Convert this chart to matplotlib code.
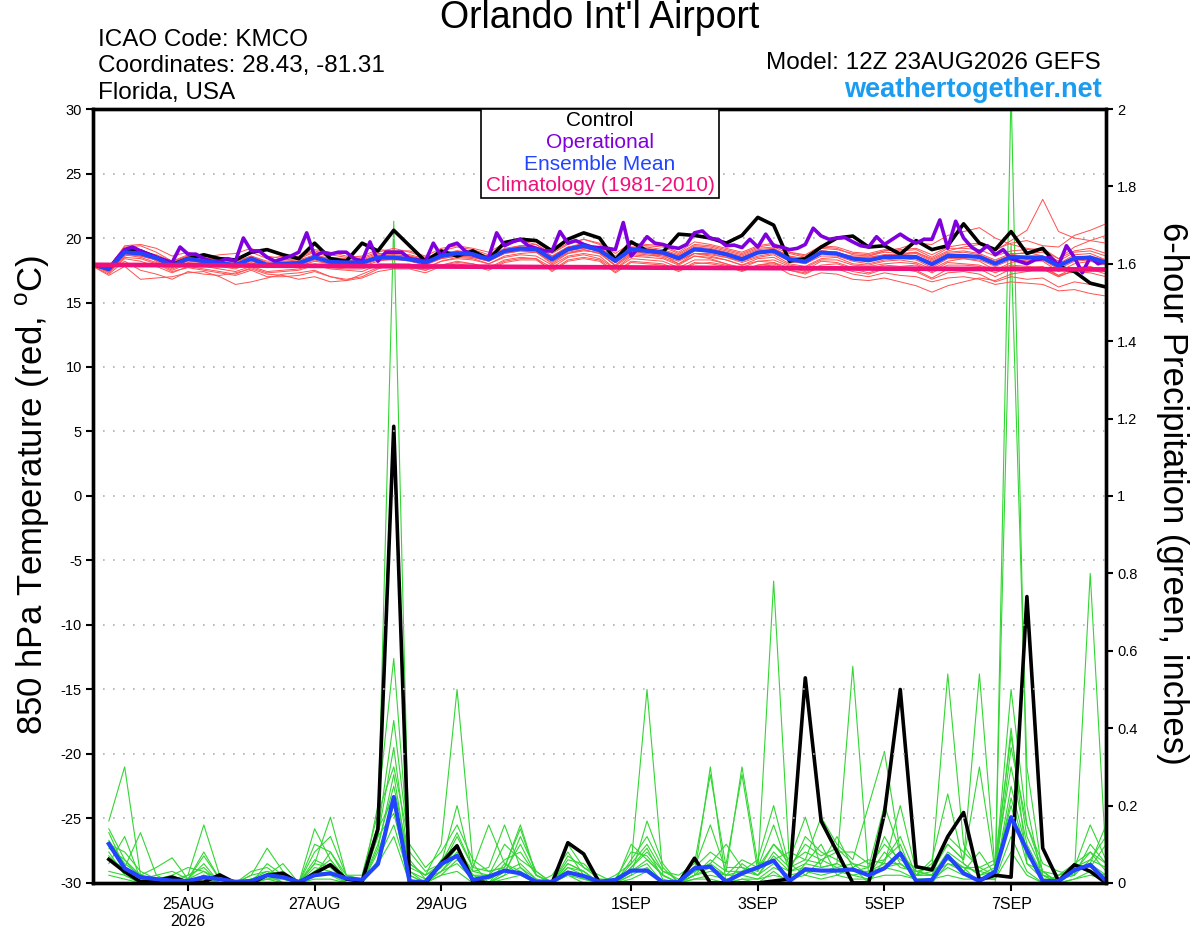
import numpy as np
import matplotlib
matplotlib.use("Agg")
import matplotlib.pyplot as plt
from matplotlib.patches import Rectangle

plt.rcParams['font.family'] = ['Liberation Sans', 'DejaVu Sans']
plt.rcParams['mathtext.fontset'] = 'custom'
plt.rcParams['mathtext.rm'] = 'Liberation Sans'

# forecast hours from 12Z 23AUG2026, every 6 h (temperature) / 3 h (operational)
tick_hours = [36, 84, 132, 204, 252, 300, 348]
tick_labels = ["25AUG\n2026", "27AUG", "29AUG", "1SEP", "3SEP", "5SEP", "7SEP"]

# 850 hPa temperature, ensemble members (C)
temp_members = [
    [18.0, 17.8, 19.3, 19.4, 18.9, 18.2, 18.7, 18.6, 18.5, 18.3, 18.9, 18.4, 18.6,
     18.5, 19.0, 18.7, 18.5, 18.6, 19.1, 19.0, 19.0, 18.6, 19.2, 19.4, 19.2, 18.9,
     19.6, 19.8, 19.7, 18.9, 19.6, 19.9, 19.6, 18.8, 19.6, 19.5, 19.4, 18.9, 19.7,
     19.5, 19.2, 18.9, 19.4, 19.6, 18.9, 18.7, 19.4, 19.3, 18.9, 18.8, 19.1, 19.0,
     19.1, 18.5, 19.2, 19.2, 19.1, 18.6, 19.0, 19.1, 19.2, 18.4, 19.0, 19.2, 18.8],
    [17.9, 17.3, 18.4, 18.2, 17.8, 17.3, 17.8, 17.6, 17.4, 17.2, 17.7, 17.3, 17.4,
     17.5, 17.9, 17.6, 17.5, 17.4, 17.9, 17.8, 17.7, 17.5, 17.9, 18.1, 18.0, 17.7,
     18.3, 18.5, 18.4, 17.7, 18.5, 18.7, 18.4, 17.6, 18.4, 18.3, 18.2, 17.7, 18.3,
     18.3, 18.0, 17.7, 18.2, 18.3, 17.8, 17.5, 18.2, 18.1, 17.7, 17.6, 17.9, 17.8,
     17.9, 17.3, 17.9, 17.9, 17.8, 17.3, 17.8, 17.7, 17.8, 17.1, 17.7, 17.8, 17.4],
    [17.8, 17.1, 17.8, 16.8, 16.9, 17.0, 17.3, 17.4, 17.0, 16.4, 16.6, 16.9, 17.2,
     17.3, 17.5, 17.0, 16.8, 17.0, 17.6, 18.0, 17.9, 17.6, 18.2, 18.5, 18.4, 18.0,
     18.6, 18.8, 18.9, 18.0, 18.8, 19.0, 18.9, 17.8, 18.7, 18.6, 18.7, 18.0, 18.8,
     18.7, 18.5, 18.1, 18.5, 18.7, 18.0, 17.8, 18.4, 18.5, 18.0, 17.9, 18.2, 18.3,
     18.1, 17.6, 18.2, 18.4, 18.2, 17.5, 18.1, 18.3, 18.2, 17.4, 18.0, 18.2, 17.9],
    [18.0, 17.7, 19.4, 19.5, 19.2, 18.6, 18.9, 18.5, 18.7, 18.8, 19.2, 18.6, 18.4,
     18.6, 19.1, 18.9, 18.6, 18.5, 18.9, 19.2, 18.9, 18.5, 18.8, 19.0, 18.8, 18.5,
     19.1, 19.4, 19.5, 18.6, 19.3, 19.6, 19.2, 18.3, 19.3, 19.2, 19.0, 18.6, 19.3,
     19.2, 18.9, 18.6, 19.1, 19.2, 18.6, 18.3, 19.0, 18.9, 18.5, 18.5, 18.7, 18.7,
     18.8, 18.2, 18.8, 18.9, 18.7, 18.2, 18.7, 18.9, 18.6, 18.0, 18.7, 18.8, 18.3],
    [17.9, 17.4, 18.6, 18.9, 18.2, 17.6, 18.1, 18.0, 17.8, 17.6, 18.1, 17.7, 17.8,
     17.8, 18.2, 18.0, 17.8, 17.8, 18.2, 18.4, 18.2, 17.9, 18.4, 18.6, 18.5, 18.2,
     18.8, 19.0, 18.9, 18.1, 18.9, 19.1, 18.8, 17.9, 18.9, 18.8, 18.6, 18.2, 18.8,
     18.8, 18.5, 18.2, 18.6, 18.8, 18.2, 18.0, 18.6, 18.6, 18.2, 18.0, 18.3, 18.4,
     18.3, 17.7, 18.4, 18.4, 18.3, 17.8, 18.3, 18.2, 18.3, 17.6, 18.2, 18.3, 17.9],
    [18.0, 17.5, 18.8, 18.6, 18.3, 17.8, 18.2, 18.1, 18.0, 17.8, 18.3, 17.8, 17.9,
     18.0, 18.4, 18.1, 18.0, 18.0, 18.4, 18.4, 18.3, 18.0, 18.5, 18.7, 18.6, 18.3,
     18.9, 19.1, 19.0, 18.3, 19.0, 19.2, 19.0, 18.1, 19.0, 18.8, 18.7, 18.3, 18.8,
     18.6, 18.3, 17.9, 18.2, 18.1, 17.5, 17.3, 17.8, 17.6, 17.2, 17.0, 17.3, 17.1,
     17.0, 16.6, 16.9, 17.0, 16.8, 16.4, 16.6, 16.5, 16.4, 15.9, 16.0, 15.7, 15.5],
    [17.9, 17.6, 18.9, 18.7, 18.5, 18.0, 18.5, 18.3, 18.2, 18.0, 18.5, 18.0, 18.1,
     18.2, 18.6, 18.3, 18.2, 18.2, 18.6, 18.6, 18.5, 18.2, 18.7, 18.9, 18.8, 18.5,
     19.1, 19.3, 19.2, 18.5, 19.2, 19.5, 19.2, 18.3, 19.2, 19.1, 19.0, 18.5, 19.2,
     19.1, 18.8, 18.5, 19.0, 19.1, 18.5, 18.3, 19.0, 18.9, 18.5, 18.5, 18.7, 18.7,
     18.9, 18.4, 19.0, 19.3, 19.5, 19.0, 19.8, 20.6, 23.0, 20.5, 20.0, 19.8, 19.6],
    [18.0, 17.7, 19.0, 18.9, 18.6, 18.1, 18.6, 18.4, 18.3, 18.1, 18.6, 18.1, 18.2,
     18.3, 18.7, 18.4, 18.3, 18.3, 18.7, 18.7, 18.6, 18.3, 18.8, 19.0, 18.9, 18.6,
     19.2, 19.4, 19.3, 18.6, 19.3, 19.5, 19.3, 18.5, 19.3, 19.3, 19.1, 18.7, 19.4,
     19.3, 19.0, 18.7, 19.2, 19.3, 18.8, 18.5, 19.2, 19.1, 18.8, 18.7, 19.0, 19.1,
     19.2, 18.7, 19.3, 19.5, 19.6, 19.1, 19.6, 19.8, 19.4, 19.3, 20.2, 20.6, 21.1],
    [17.9, 17.5, 18.7, 18.5, 18.1, 17.5, 18.0, 17.8, 17.6, 17.4, 17.8, 17.4, 17.5,
     17.6, 18.0, 17.7, 17.6, 17.6, 18.0, 18.0, 18.0, 17.7, 18.2, 18.4, 18.3, 18.0,
     18.5, 18.7, 18.6, 17.9, 18.6, 18.8, 18.6, 17.6, 18.6, 18.5, 18.4, 17.9, 18.6,
     18.5, 18.3, 17.9, 18.4, 18.5, 17.9, 17.7, 18.3, 18.3, 17.9, 17.8, 18.0, 18.1,
     18.0, 17.4, 18.1, 18.0, 17.9, 17.5, 17.9, 17.8, 17.7, 17.1, 17.4, 17.3, 17.0],
    [17.8, 17.4, 18.5, 18.4, 18.0, 17.4, 17.7, 17.5, 17.3, 17.1, 17.5, 17.0, 17.0,
     17.1, 17.4, 17.0, 16.7, 16.9, 17.4, 17.6, 17.6, 17.3, 17.8, 18.0, 17.8, 17.5,
     18.1, 18.3, 18.3, 17.5, 18.3, 18.5, 18.3, 17.4, 18.2, 18.1, 18.0, 17.5, 18.1,
     18.0, 17.8, 17.4, 17.9, 18.0, 17.5, 17.2, 17.8, 17.8, 17.4, 17.2, 17.6, 17.6,
     17.5, 16.9, 17.6, 17.7, 17.6, 17.0, 17.6, 17.5, 17.6, 17.0, 17.5, 17.6, 17.2],
    [18.0, 17.8, 19.1, 19.0, 18.7, 18.2, 18.6, 18.4, 18.4, 18.2, 18.6, 18.2, 18.3,
     18.4, 18.9, 18.5, 18.4, 18.4, 18.8, 18.8, 18.7, 18.4, 19.0, 19.3, 19.1, 18.7,
     19.4, 19.8, 19.5, 18.8, 19.5, 19.9, 19.5, 18.6, 19.5, 19.4, 19.3, 18.8, 19.5,
     19.4, 19.1, 18.8, 19.3, 19.5, 18.9, 18.6, 19.3, 19.2, 18.7, 18.6, 18.9, 18.8,
     18.9, 18.3, 18.9, 19.0, 18.8, 18.3, 18.8, 18.8, 18.9, 18.2, 18.9, 19.0, 18.6],
    [18.0, 17.6, 18.8, 18.7, 18.4, 17.9, 18.3, 18.1, 18.0, 17.8, 18.3, 17.8, 17.9,
     18.0, 18.4, 18.1, 18.0, 18.0, 18.4, 18.4, 18.3, 18.0, 18.5, 18.7, 18.6, 18.3,
     18.9, 19.1, 19.0, 18.3, 19.0, 19.3, 19.0, 18.1, 19.0, 18.9, 18.8, 18.3, 19.0,
     18.9, 18.6, 18.3, 18.8, 18.9, 18.4, 18.2, 18.8, 18.8, 18.6, 18.6, 19.0, 19.2,
     19.6, 19.5, 20.2, 20.5, 20.8, 20.0, 19.5, 19.2, 19.0, 18.4, 19.3, 19.8, 20.2],
    [17.8, 17.2, 18.2, 17.5, 17.2, 16.8, 17.4, 17.2, 17.1, 17.3, 17.6, 17.2, 17.1,
     16.8, 17.0, 16.6, 16.7, 17.2, 17.7, 17.9, 17.8, 17.5, 17.9, 18.2, 18.0, 17.6,
     18.2, 18.4, 18.4, 17.4, 18.2, 18.4, 18.2, 17.3, 18.1, 18.0, 17.9, 17.4, 18.0,
     18.1, 17.9, 17.5, 17.9, 18.1, 17.7, 17.4, 17.9, 18.0, 17.6, 17.3, 17.7, 17.6,
     17.4, 16.8, 17.3, 17.4, 17.2, 16.6, 17.0, 16.8, 16.9, 16.2, 16.6, 16.4, 16.2],
    [18.0, 17.7, 19.2, 19.1, 18.5, 17.8, 18.4, 18.3, 18.2, 18.0, 18.4, 18.0, 18.1,
     18.2, 18.6, 18.4, 18.3, 18.2, 18.6, 18.7, 18.6, 18.3, 18.7, 18.9, 18.8, 18.5,
     19.0, 19.2, 19.2, 18.5, 19.1, 19.4, 19.2, 18.4, 19.2, 19.1, 19.0, 18.6, 19.1,
     19.0, 18.8, 18.5, 18.9, 19.1, 18.6, 18.4, 19.0, 18.9, 18.5, 18.4, 18.6, 18.6,
     18.6, 18.1, 18.7, 18.7, 18.6, 18.1, 18.6, 18.6, 18.6, 17.9, 18.5, 18.6, 18.3],
    [17.9, 17.5, 18.7, 18.6, 18.3, 17.8, 18.3, 18.1, 17.9, 17.7, 18.2, 17.8, 17.9,
     17.9, 18.3, 18.0, 17.9, 17.9, 18.3, 18.3, 18.3, 18.0, 18.4, 18.6, 18.5, 18.2,
     18.8, 19.0, 18.9, 18.2, 18.8, 19.1, 18.8, 17.9, 18.8, 18.7, 18.5, 18.0, 18.6,
     18.4, 18.0, 17.5, 17.8, 17.9, 17.2, 16.9, 17.3, 17.2, 16.8, 16.7, 16.9, 16.6,
     16.3, 15.8, 16.3, 16.6, 16.9, 16.7, 17.2, 17.4, 17.6, 17.0, 17.5, 17.7, 17.4],
    [18.0, 17.4, 18.8, 18.8, 18.4, 17.9, 18.5, 18.3, 18.1, 17.9, 18.5, 18.0, 18.1,
     18.1, 18.5, 18.2, 18.1, 18.1, 18.6, 18.5, 18.4, 18.1, 18.6, 18.8, 18.7, 18.4,
     19.0, 19.2, 19.1, 18.4, 19.1, 19.4, 19.1, 18.2, 19.1, 19.0, 18.9, 18.4, 19.1,
     19.0, 18.7, 18.4, 18.9, 19.0, 18.4, 18.2, 18.9, 18.8, 18.4, 18.3, 18.6, 18.6,
     18.6, 18.1, 18.7, 18.7, 18.5, 18.0, 18.5, 18.5, 18.6, 17.8, 18.4, 18.5, 18.1],
]

control_temp = [
    17.97, 17.6, 19.0, 19.0, 18.5, 17.95, 18.4, 18.7, 18.4, 18.3, 18.9, 19.1, 18.7,
    18.4, 19.6, 18.4, 18.2, 19.6, 19.0, 20.6, 19.4, 18.2, 19.0, 18.6, 19.0, 18.35,
    19.65, 19.9, 19.8, 19.0, 19.9, 20.4, 20.0, 18.3, 19.7, 19.0, 18.9, 20.3, 20.2,
    20.0, 19.6, 20.2, 21.6, 21.0, 18.2, 18.4, 19.3, 20.0, 20.15, 19.3, 19.4, 18.75,
    19.8, 19.1, 19.4, 21.1, 19.6, 19.1, 20.5, 18.8, 19.2, 17.8, 17.4, 16.5, 16.2]

mean_temp = [
    17.96, 17.6, 18.9, 18.8, 18.45, 17.85, 18.4, 18.2, 18.05, 17.9, 18.4, 17.9, 18.0,
    18.05, 18.5, 18.15, 18.1, 18.1, 18.48, 18.48, 18.35, 18.09, 18.61, 18.82, 18.74, 18.35,
    18.99, 19.18, 19.13, 18.35, 19.13, 19.39, 19.05, 18.22, 19.13, 19.0, 18.87, 18.43, 19.13,
    19.0, 18.74, 18.35, 18.87, 19.0, 18.35, 18.17, 18.87, 18.79, 18.4, 18.27, 18.53, 18.53,
    18.53, 17.96, 18.61, 18.61, 18.53, 18.01, 18.53, 18.48, 18.48, 17.83, 18.43, 18.48, 18.09]

# operational run, 3-hourly
oper_temp = [
    17.96, 17.8, 17.57, 18.4, 19.1, 19.3, 19.0, 18.75, 18.5, 18.3, 18.1, 19.3, 18.75,
    18.75, 18.4, 18.2, 18.2, 18.4, 18.2, 20.0, 19.0, 19.0, 18.5, 18.2, 18.4, 18.6,
    18.9, 20.4, 18.6, 18.9, 18.75, 18.9, 18.9,
    18.4, 18.2, 19.7, 18.2, 18.9, 18.9, 18.9, 18.4, 18.3, 18.2, 19.6, 18.6, 19.4,
    19.6, 19.0, 18.7, 18.5, 18.5, 20.4, 19.4, 19.7, 19.9, 19.4, 19.2, 19.0, 19.0,
    20.5, 19.6, 19.8, 19.5, 19.3,
    19.25, 19.2, 19.1, 21.2, 18.6, 19.3, 20.1, 19.6, 19.5, 19.3, 19.2, 19.5, 20.4,
    20.55, 19.96, 19.9, 19.4, 19.45, 19.26, 19.9, 19.3, 20.3, 19.4, 19.3, 19.1, 19.2,
    19.5, 20.76, 20.16, 19.9, 20.0, 20.03,
    19.7, 19.4, 19.3, 20.1, 19.5, 19.9, 20.3, 19.9, 19.6, 19.9, 19.9, 21.4, 19.2,
    21.3, 20.0, 19.3, 18.9, 19.4, 18.7, 19.1, 18.4, 18.2, 18.0, 18.3, 18.4, 18.5,
    17.9, 19.4, 18.5, 17.3, 18.5, 18.0, 18.2]

# 1981-2010 climatology, daily
clim_temp = [17.92, 17.9, 17.88, 17.85, 17.83, 17.8, 17.78, 17.75, 17.73,
             17.7, 17.68, 17.66, 17.64, 17.62, 17.6, 17.58, 17.56]

# 6-hour precipitation (inches), valid 6 h .. 384 h
precip_members = [
    [0.16, 0.30, 0.02, 0, 0, 0.01, 0.05, 0, 0, 0, 0.02, 0, 0, 0.03, 0.05, 0,
     0, 0.15, 1.71, 0.02, 0, 0.03, 0.08, 0, 0, 0.05, 0.02, 0, 0, 0.02, 0, 0,
     0, 0.03, 0.05, 0, 0, 0.02, 0.30, 0, 0.01, 0, 0.03, 0, 0.05, 0.10, 0.02, 0.04,
     0, 0.06, 0.10, 0, 0, 0.05, 0.04, 0, 0, 2.05, 0.20, 0, 0.02, 0.05, 0.08, 0.03],
    [0.13, 0.04, 0.13, 0.02, 0, 0.02, 0.15, 0.02, 0, 0, 0.01, 0.02, 0, 0.14, 0.06, 0.01,
     0, 0.20, 0.58, 0.05, 0.02, 0.10, 0.50, 0.05, 0, 0.02, 0.12, 0.03, 0, 0.05, 0.03, 0,
     0, 0.02, 0.16, 0.05, 0, 0.04, 0.08, 0.05, 0.28, 0.03, 0.78, 0.05, 0.02, 0.06, 0.04, 0.02,
     0.03, 0.04, 0.05, 0.02, 0.06, 0.23, 0.05, 0.02, 0.03, 1.65, 0.30, 0.02, 0, 0.03, 0.05, 0.02],
    [0.11, 0.05, 0.02, 0.04, 0.065, 0.01, 0.07, 0.01, 0, 0.02, 0.09, 0.03, 0, 0.05, 0.17, 0.02,
     0, 0.13, 0.42, 0.08, 0.03, 0.05, 0.20, 0.03, 0.04, 0.15, 0.04, 0, 0.02, 0.08, 0.02, 0,
     0.02, 0.05, 0.50, 0.02, 0, 0.03, 0.05, 0.02, 0.02, 0.04, 0.10, 0.06, 0.17, 0.04, 0.05, 0.56,
     0.02, 0.08, 0.04, 0.03, 0.02, 0.05, 0.03, 0.08, 0.02, 0.35, 0.15, 0.05, 0.03, 0.02, 0.80, 0.06],
    [0.10, 0.08, 0.03, 0.01, 0, 0, 0.02, 0, 0, 0, 0.05, 0.02, 0, 0.10, 0.08, 0.02,
     0.02, 0.18, 0.30, 0.10, 0.04, 0.08, 0.15, 0.06, 0.03, 0.04, 0.14, 0.02, 0, 0.07, 0.04, 0.02,
     0, 0.04, 0.08, 0.03, 0.02, 0.05, 0.28, 0.04, 0.04, 0.02, 0.08, 0.04, 0.06, 0.17, 0.10, 0.06,
     0.20, 0.34, 0.08, 0.02, 0.05, 0.10, 0.06, 0.54, 0.03, 0.40, 0.05, 0.03, 0, 0.05, 0.04, 0.10],
    [0.09, 0.06, 0.01, 0, 0.02, 0.04, 0.03, 0, 0, 0.03, 0.04, 0.01, 0, 0.06, 0.04, 0,
     0, 0.10, 0.25, 0.06, 0.01, 0.04, 0.12, 0.04, 0.15, 0.05, 0.03, 0, 0, 0.06, 0.05, 0.01,
     0, 0.06, 0.12, 0.04, 0, 0.02, 0.06, 0.03, 0.30, 0.05, 0.06, 0.08, 0.06, 0.05, 0.12, 0.04,
     0.06, 0.05, 0.20, 0.03, 0.04, 0.54, 0.10, 0.03, 0.05, 0.30, 0.10, 0.02, 0, 0.04, 0.06, 0.04],
    [0.07, 0.03, 0, 0, 0.01, 0.02, 0.04, 0, 0, 0, 0.02, 0.05, 0, 0.04, 0.03, 0,
     0, 0.08, 0.20, 0.03, 0, 0.06, 0.10, 0.02, 0.02, 0.10, 0.06, 0.03, 0, 0.04, 0.02, 0,
     0, 0.10, 0.06, 0.02, 0, 0.03, 0.04, 0, 0.05, 0.02, 0.05, 0.03, 0.12, 0.08, 0.06, 0.03,
     0.04, 0.10, 0.06, 0.04, 0.03, 0.06, 0.04, 0.04, 0.02, 0.25, 0.08, 0, 0.02, 0.03, 0.05, 0.15],
    [0.05, 0.12, 0.01, 0, 0, 0, 0.02, 0, 0, 0.01, 0.03, 0, 0, 0.02, 0.08, 0.01,
     0, 0.12, 0.18, 0.02, 0, 0.02, 0.06, 0.02, 0, 0.03, 0.10, 0.02, 0, 0.05, 0.03, 0,
     0, 0.04, 0.09, 0.01, 0, 0.02, 0.03, 0.02, 0.06, 0.04, 0.15, 0.03, 0.04, 0.03, 0.04, 0.05,
     0.02, 0.12, 0.05, 0.02, 0.02, 0.08, 0.05, 0.02, 0.04, 0.20, 0.05, 0.01, 0.01, 0.02, 0.10, 0.05],
    [0.03, 0.02, 0, 0, 0, 0.01, 0.01, 0, 0, 0, 0.01, 0, 0, 0.03, 0.02, 0,
     0, 0.06, 0.15, 0.01, 0, 0.03, 0.05, 0.01, 0, 0.02, 0.04, 0.01, 0, 0.03, 0.01, 0,
     0, 0.02, 0.04, 0, 0, 0.01, 0.02, 0.01, 0.02, 0.01, 0.04, 0.02, 0.03, 0.02, 0.03, 0.02,
     0.01, 0.04, 0.03, 0.01, 0.01, 0.04, 0.02, 0.01, 0.01, 0.12, 0.03, 0, 0, 0.01, 0.03, 0.02],
    [0.14, 0.06, 0.02, 0.01, 0, 0.01, 0.03, 0.01, 0, 0.02, 0.03, 0.02, 0, 0.08, 0.12, 0.02,
     0.01, 0.12, 0.35, 0.04, 0.02, 0.04, 0.09, 0.03, 0.02, 0.06, 0.08, 0.02, 0, 0.04, 0.03, 0,
     0, 0.05, 0.10, 0.03, 0.01, 0.03, 0.05, 0.10, 0.04, 0.03, 0.10, 0.05, 0.08, 0.06, 0.08, 0.08,
     0.05, 0.06, 0.12, 0.02, 0.03, 0.10, 0.06, 0.30, 0.03, 0.50, 0.15, 0.03, 0, 0.03, 0.08, 0.05],
    [0.02, 0.01, 0, 0, 0, 0, 0.01, 0, 0, 0, 0, 0, 0, 0.01, 0.01, 0,
     0, 0.05, 0.12, 0, 0, 0.02, 0.03, 0, 0, 0.01, 0.02, 0, 0, 0.02, 0.01, 0,
     0, 0.01, 0.03, 0, 0, 0.01, 0.01, 0, 0.01, 0.01, 0.02, 0.01, 0.02, 0.01, 0.02, 0.01,
     0.01, 0.02, 0.02, 0.01, 0.01, 0.02, 0.01, 0.01, 0.01, 0.08, 0.02, 0, 0, 0.01, 0.02, 0.01],
    [0.06, 0.04, 0.01, 0.02, 0.03, 0.01, 0.08, 0.01, 0, 0.01, 0.02, 0.03, 0, 0.05, 0.04, 0.01,
     0, 0.14, 0.22, 0.05, 0.02, 0.05, 0.13, 0.04, 0.03, 0.04, 0.15, 0.02, 0, 0.10, 0.04, 0.01,
     0.01, 0.08, 0.07, 0.02, 0, 0.04, 0.15, 0.03, 0.03, 0.06, 0.20, 0.04, 0.10, 0.07, 0.09, 0.05,
     0.04, 0.20, 0.08, 0.03, 0.02, 0.12, 0.08, 0.04, 0.06, 0.38, 0.12, 0.03, 0.02, 0.04, 0.15, 0.06],
    [0.08, 0.02, 0, 0.01, 0.02, 0, 0.02, 0, 0, 0.01, 0.01, 0.01, 0, 0.03, 0.06, 0.01,
     0, 0.09, 0.28, 0.03, 0.01, 0.03, 0.07, 0.02, 0.01, 0.03, 0.05, 0.01, 0, 0.03, 0.02, 0,
     0, 0.03, 0.06, 0.02, 0, 0.02, 0.04, 0.02, 0.03, 0.02, 0.07, 0.03, 0.05, 0.04, 0.05, 0.03,
     0.03, 0.05, 0.05, 0.02, 0.02, 0.07, 0.04, 0.03, 0.02, 0.22, 0.07, 0.02, 0.01, 0.02, 0.06, 0.12],
]

control_precip = [
    0.061, 0.029, 0.003, 0.006, 0.015, 0.002, 0.002, 0.021,
    0, 0, 0.02, 0.025, 0, 0.025, 0.047, 0.01,
    0.005, 0.14, 1.18, 0, 0, 0.051, 0.096, 0.005,
    0, 0, 0, 0, 0, 0.104, 0.075, 0,
    0, 0, 0, 0, 0, 0.064, 0, 0,
    0, 0, 0.005, 0.01, 0.53, 0.16, 0.081, 0,
    0, 0.18, 0.5, 0.042, 0.034, 0.12, 0.182, 0.008,
    0.02, 0.015, 0.74, 0.09, 0.005, 0.047, 0.03, 0]

mean_precip = [
    0.101, 0.038, 0.015, 0.01, 0.006, 0.005, 0.015, 0.01,
    0.003, 0.005, 0.02, 0.015, 0.003, 0.02, 0.025, 0.012,
    0.008, 0.049, 0.222, 0.003, 0.003, 0.049, 0.07, 0.008,
    0.016, 0.032, 0.025, 0.003, 0.003, 0.027, 0.018, 0.003,
    0.008, 0.032, 0.032, 0.002, 0.003, 0.038, 0.042, 0.003,
    0.025, 0.04, 0.058, 0.005, 0.035, 0.032, 0.032, 0.035,
    0.02, 0.038, 0.077, 0.005, 0.008, 0.07, 0.025, 0.005,
    0.03, 0.17, 0.085, 0.005, 0.005, 0.033, 0.047, 0.005]

for m in temp_members:
    assert len(m) == 65
for m in precip_members:
    assert len(m) == 64
assert len(oper_temp) == 129

h_t = np.arange(65) * 6
h_p = np.arange(1, 65) * 6
h_op = np.arange(129) * 3
h_clim = np.arange(17) * 24

fig = plt.figure(figsize=(12, 9.27), dpi=100)
ax1 = fig.add_axes([0.0775, 0.0475, 0.8442, 0.8349])
ax2 = ax1.twinx()
ax1.set_zorder(ax2.get_zorder() + 1)
ax1.patch.set_visible(False)

# precipitation (right axis)
for m in precip_members:
    ax2.plot(h_p, m, color='#33d633', lw=0.8)
ax2.plot(h_p, control_precip, color='black', lw=2.6)
ax2.plot(h_p, mean_precip, color='#2244ff', lw=3.0)

# temperature (left axis)
for y in range(-25, 30, 5):
    ax1.axhline(y, color='#b0b0b0', lw=1.2, ls=(0, (1, 5)), zorder=0)
for m in temp_members:
    ax1.plot(h_t, m, color='#ff5050', lw=0.7)
ax1.plot(h_t, control_temp, color='black', lw=2.6)
ax1.plot(h_op, oper_temp, color='#8000dd', lw=2.6)
ax1.plot(h_t, mean_temp, color='#2244ff', lw=3.0)
ax1.plot(h_clim, clim_temp, color='#f0107a', lw=3.4)

ax1.set_xlim(0, 384)
ax1.set_ylim(-30, 30)
ax2.set_ylim(0, 2)
ax1.set_yticks(range(-30, 31, 5))
ax1.set_yticklabels([str(v) for v in range(-30, 31, 5)])
ax2.set_yticks(np.arange(0, 2.01, 0.2))
ax2.set_yticklabels(["0", "0.2", "0.4", "0.6", "0.8", "1", "1.2", "1.4", "1.6", "1.8", "2"])
ax1.set_xticks(tick_hours)
ax1.set_xticklabels(tick_labels)

ax1.tick_params(axis='y', direction='out', length=5, width=1.5, labelsize=10.5, pad=3)
ax2.tick_params(axis='y', direction='out', length=5, width=1.5, labelsize=10.5, pad=3)
ax1.tick_params(axis='x', direction='out', length=6, width=1.5, labelsize=11.5, pad=4)
for ax in (ax1, ax2):
    for s in ax.spines.values():
        s.set_linewidth(2.4)

fig.text(33 / 1200, 1 - 495 / 927, r'850 hPa Temperature (red, $^{\mathrm{o}}$C)',
         rotation=90, ha='center', va='center', fontsize=25)
fig.text(1172 / 1200, 1 - 493 / 927, '6-hour Precipitation (green, inches)',
         rotation=270, ha='center', va='center', fontsize=25)

# header
fig.text(0.5, 1 - 18 / 927, "Orlando Int'l Airport", ha='center', va='center', fontsize=27)
fig.text(98 / 1200, 1 - 40 / 927, "ICAO Code: KMCO", va='center', fontsize=17.5)
fig.text(98 / 1200, 1 - 66 / 927, "Coordinates: 28.43, -81.31", va='center', fontsize=17.5)
fig.text(98 / 1200, 1 - 93 / 927, "Florida, USA", va='center', fontsize=17.5)
fig.text(1101 / 1200, 1 - 63 / 927, "Model: 12Z 23AUG2026 GEFS", ha='right', va='center',
         fontsize=17.5)
fig.text(1102 / 1200, 1 - 90 / 927, "weathertogether.net", ha='right', va='center',
         fontsize=19.5, fontweight='bold', color='#1a9cf0')

# legend box
fig.add_artist(Rectangle((481 / 1200, 1 - 198 / 927), (719 - 481) / 1200, (198 - 109) / 927,
                         transform=fig.transFigure, facecolor='white', edgecolor='black',
                         lw=1.2, zorder=5))
leg = [("Control", "black"), ("Operational", "#8000dd"),
       ("Ensemble Mean", "#2244ff"), ("Climatology (1981-2010)", "#f0107a")]
for k, (txt, col) in enumerate(leg):
    fig.text(600 / 1200, 1 - (121 + 21.5 * k) / 927, txt, ha='center', va='center',
             fontsize=15, color=col, zorder=6)

fig.savefig("out.png", dpi=100)
